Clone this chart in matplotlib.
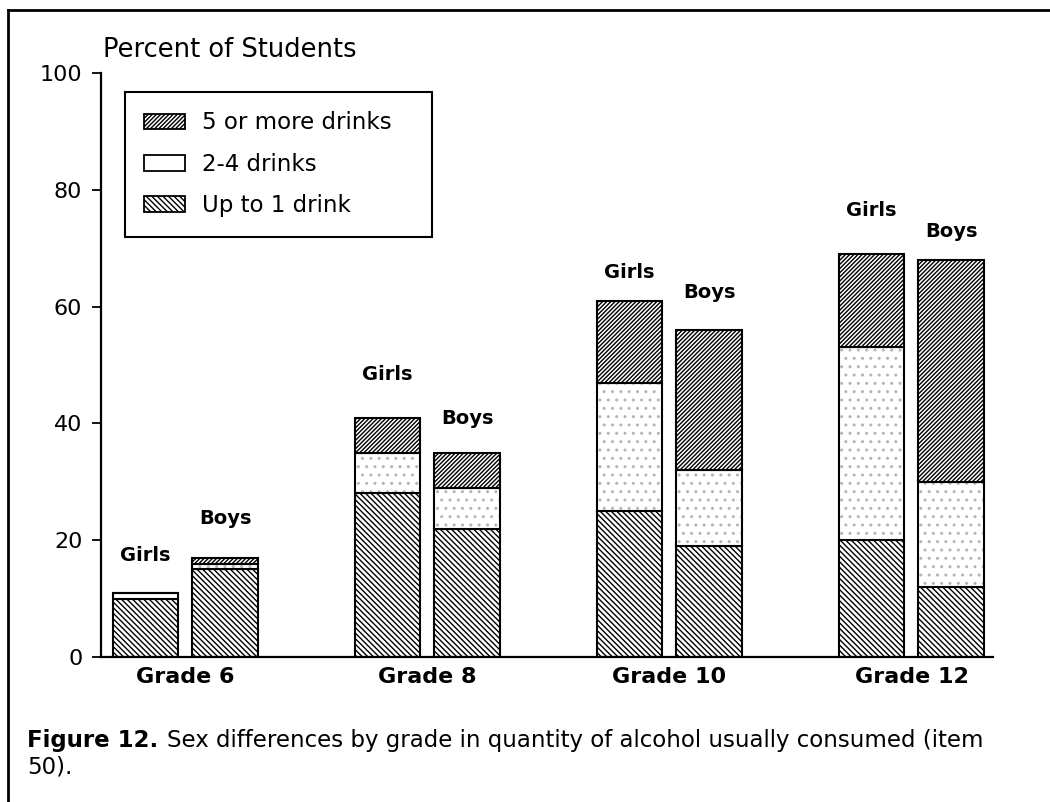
import numpy as np
import matplotlib
matplotlib.use("Agg")
import matplotlib.pyplot as plt
from matplotlib.patches import Patch
from matplotlib.lines import Line2D

matplotlib.rcParams['font.family'] = ['DejaVu Sans']
matplotlib.rcParams['hatch.linewidth'] = 1.0

# data (percent of students)
grades = ['Grade 6', 'Grade 8', 'Grade 10', 'Grade 12']
girls_up_to_1 = [10, 28, 25, 20]
girls_2_to_4 = [1, 7, 22, 33]
girls_5_plus = [0, 6, 14, 16]
boys_up_to_1 = [15, 22, 19, 12]
boys_2_to_4 = [1, 7, 13, 18]
boys_5_plus = [1, 6, 24, 38]
series_names = ['5 or more drinks', '2-4 drinks', 'Up to 1 drink']

# label placement above each bar (layout only)
girls_label_pad = [6.3, 7.3, 4.9, 7.5]
boys_label_pad = [6.8, 5.9, 6.5, 4.8]

W, H = 1050, 802
fig = plt.figure(figsize=(W / 100, H / 100), dpi=100)
ax = fig.add_axes([101 / W, 1 - 657 / H, 892 / W, 584 / H])

x = np.arange(len(grades))
off = 0.165
bw = 0.272
hatch_low = '\\' * 6
hatch_high = '/' * 8


def stack(xpos, low, mid, high):
    low = np.array(low, float)
    mid = np.array(mid, float)
    high = np.array(high, float)
    ax.bar(xpos, low, bw, color='white', edgecolor='black', hatch=hatch_low, linewidth=1.5)
    # stipple for 2-4 drinks
    ax.bar(xpos, mid, bw, bottom=low, color='white', edgecolor='#b5b5b5', hatch='..', linewidth=0)
    ax.bar(xpos, mid, bw, bottom=low, fill=False, edgecolor='black', linewidth=1.5)
    ax.bar(xpos, high, bw, bottom=low + mid, color='white', edgecolor='black', hatch=hatch_high, linewidth=1.5)
    return low + mid + high


girls_tot = stack(x - off, girls_up_to_1, girls_2_to_4, girls_5_plus)
boys_tot = stack(x + off, boys_up_to_1, boys_2_to_4, boys_5_plus)

for i in range(len(grades)):
    ax.text(x[i] - off, girls_tot[i] + girls_label_pad[i], 'Girls', ha='center', va='center',
            fontsize=14, fontweight='bold')
    ax.text(x[i] + off, boys_tot[i] + boys_label_pad[i], 'Boys', ha='center', va='center',
            fontsize=14, fontweight='bold')

ax.set_xlim(-0.349, 3.337)
ax.set_ylim(0, 100)
ax.set_yticks(range(0, 101, 20))
ax.set_xticks(x)
ax.set_xticklabels(grades, fontsize=16, fontweight='bold')
ax.tick_params(axis='x', length=0, pad=7)
ax.tick_params(axis='y', length=6.5, width=1.3, pad=7, labelsize=16, direction='out')
for s in ['top', 'right']:
    ax.spines[s].set_visible(False)
for s in ['left', 'bottom']:
    ax.spines[s].set_linewidth(1.6)

handles = [Patch(facecolor='white', edgecolor='black', hatch=hatch_high, linewidth=1.3),
           Patch(facecolor='white', edgecolor='black', linewidth=1.3),
           Patch(facecolor='white', edgecolor='black', hatch=hatch_low, linewidth=1.3)]
leg = ax.legend(handles, series_names, loc='upper left', mode='expand',
                bbox_to_anchor=(0.0269, 0.5, 0.344, 0.4675), borderaxespad=0,
                fontsize=16.5, handlelength=1.75, handleheight=0.68, handletextpad=0.75,
                labelspacing=0.8, borderpad=0.85, fancybox=False, framealpha=1)
leg.get_frame().set_edgecolor('black')
leg.get_frame().set_linewidth(1.5)

fig.text(103 / W, 1 - 57 / H, 'Percent of Students', fontsize=18.5, ha='left', va='baseline')

# caption
t1 = fig.text(27 / W, 1 - 747 / H, 'Figure 12.', fontsize=16.5, fontweight='bold',
              ha='left', va='baseline')
fig.canvas.draw()
bb = t1.get_window_extent()
fig.text((bb.x1 + 9) / W, 1 - 747 / H,
         'Sex differences by grade in quantity of alcohol usually consumed (item',
         fontsize=16.5, ha='left', va='baseline')
fig.text(27 / W, 1 - 774 / H, '50).', fontsize=16.5, ha='left', va='baseline')

# page frame
fig.add_artist(Line2D([8 / W, 8 / W], [0, 1 - 10 / H], color='black', linewidth=2,
                      transform=fig.transFigure))
fig.add_artist(Line2D([8 / W, 1], [1 - 10 / H, 1 - 10 / H], color='black', linewidth=2,
                      transform=fig.transFigure))

plt.savefig('out.png', dpi=100)
